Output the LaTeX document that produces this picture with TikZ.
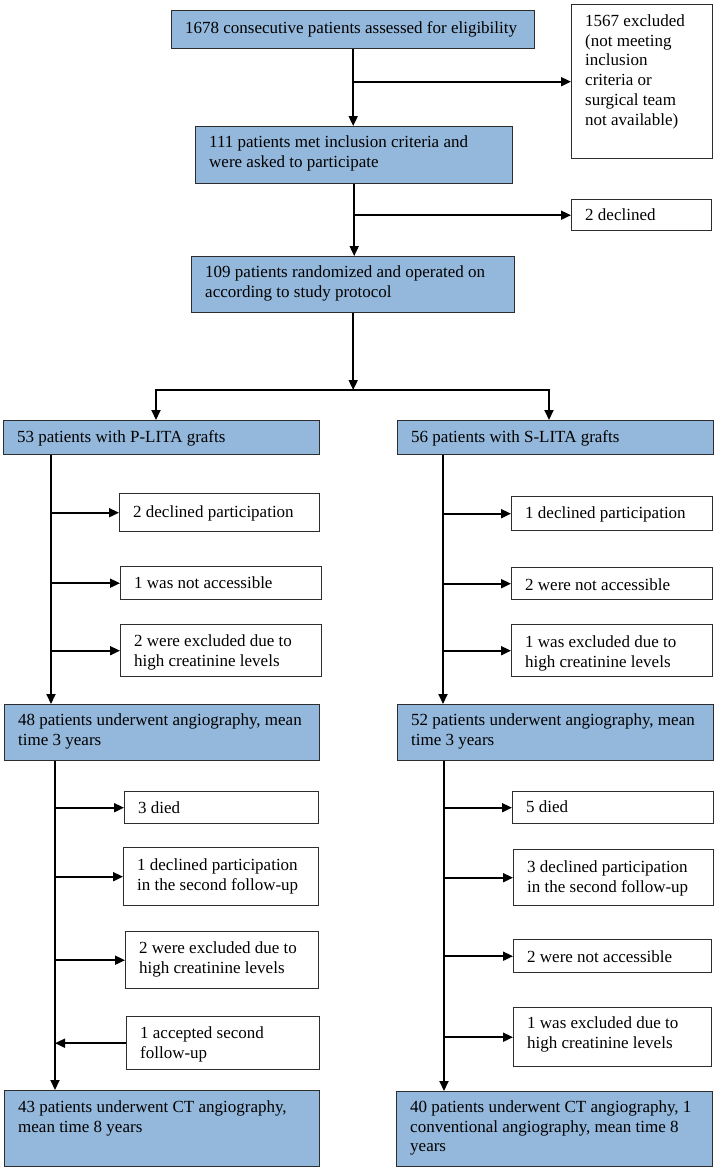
\documentclass[tikz,border=0pt]{standalone}
\usepackage{fontspec}
\setmainfont{Liberation Serif}
\usetikzlibrary{arrows.meta}
\definecolor{boxblue}{RGB}{148,184,219}
\definecolor{edgegray}{RGB}{45,45,45}
\tikzset{
  boxbase/.style={draw=edgegray, line width=1.4pt, inner sep=0pt, anchor=north west},
  bluebox/.style={boxbase, fill=boxblue},
  whitebox/.style={boxbase, fill=white},
  txt/.style={inner sep=0pt, anchor=north west, align=left, font=\fontsize{17}{19.8}\selectfont},
  conn/.style={line width=1.8pt, draw=black},
  arr/.style={conn, -{Triangle[length=10pt,width=9pt]}},
}
\newcommand\flowbox[8]{%
  \node[#2, minimum width={(#5-#3)*1pt}, minimum height={(#6-#4)*1pt}] (#1) at (#3,#4) {};
  \node[txt] (#1t) at ({#3+14},{#4+#7-13.86}) {\strut #8};
}
\begin{document}
\begin{tikzpicture}[x=1pt,y=-1pt]
\useasboundingbox (0,0) rectangle (717,1170);
\fill[white] (0,0) rectangle (717,1170);

% top part
\flowbox{A}{bluebox}{171}{10}{534}{48}{23}{1678 consecutive patients assessed for eligibility}
\flowbox{excl}{whitebox}{571}{4}{712}{158}{22}{1567 excluded\\(not meeting\\inclusion\\criteria or\\surgical team\\not available)}
\flowbox{B}{bluebox}{195}{126}{512}{183}{21}{111 patients met inclusion criteria and\\were asked to participate}
\flowbox{decl}{whitebox}{571}{199}{711}{230}{21}{2 declined}
\flowbox{C}{bluebox}{191}{256}{514}{312}{21}{109 patients randomized and operated on\\according to study protocol}

% arms
\flowbox{D}{bluebox}{3}{420}{319}{454}{22}{53 patients with P-LITA grafts}
\flowbox{E}{bluebox}{397}{420}{713}{454}{22}{56 patients with S-LITA grafts}

\flowbox{l1}{whitebox}{119}{493}{319}{531}{24}{2 declined participation}
\flowbox{l2}{whitebox}{120}{566}{321}{599}{22}{1 was not accessible}
\flowbox{l3}{whitebox}{120}{624}{321}{676}{22}{2 were excluded due to\\high creatinine levels}
\flowbox{r1}{whitebox}{511}{496}{712}{530}{22}{1 declined participation}
\flowbox{r2}{whitebox}{511}{567}{712}{599}{23}{2 were not accessible}
\flowbox{r3}{whitebox}{511}{624}{712}{676}{23}{1 was excluded due to\\high creatinine levels}

\flowbox{F}{bluebox}{4}{704}{319}{760}{21}{48 patients underwent angiography, mean\\time 3 years}
\flowbox{G}{bluebox}{397}{704}{713}{760}{21}{52 patients underwent angiography, mean\\time 3 years}

\flowbox{ld1}{whitebox}{124}{791}{318}{823}{22}{3 died}
\flowbox{ld2}{whitebox}{123}{847}{318}{905}{23}{1 declined participation\\in the second follow-up}
\flowbox{ld3}{whitebox}{125}{931}{318}{988}{22}{2 were excluded due to\\high creatinine levels}
\flowbox{ld4}{whitebox}{126}{1016}{319}{1069}{22}{1 accepted second\\follow-up}
\flowbox{rd1}{whitebox}{512}{791}{713}{823}{21}{5 died}
\flowbox{rd2}{whitebox}{513}{849}{713}{905}{23}{3 declined participation\\in the second follow-up}
\flowbox{rd3}{whitebox}{513}{939}{711}{972}{23}{2 were not accessible}
\flowbox{rd4}{whitebox}{513}{1007}{711}{1066}{21}{1 was excluded due to\\high creatinine levels}

\flowbox{H}{bluebox}{4}{1090}{319}{1166}{22}{43 patients underwent CT angiography,\\mean time 8 years}
\flowbox{I}{bluebox}{396}{1091}{712}{1166}{21}{40 patients underwent CT angiography, 1\\conventional angiography, mean time 8\\years}

% connectors, top
\draw[arr] (A.south) -- (A.south |- B.north);
\draw[arr] (A.south |- excl.west) -- (excl.west);
\draw[arr] (B.south) -- (B.south |- C.north);
\draw[arr] (B.south |- decl.west) -- (decl.west);
\coordinate (splitL) at (156,390);
\coordinate (splitR) at (549,390);
\coordinate (split) at (C.south |- splitL);
\draw[arr] (C.south) -- (split);
\draw[arr] (split) -| (splitL |- D.north);
\draw[arr] (split) -| (splitR |- E.north);

% arms, first stage
\coordinate (lx) at (51,0);
\coordinate (rx) at (443,0);
\draw[arr] (lx |- D.south) -- (lx |- F.north);
\draw[arr] (lx |- l1.west) -- (l1.west);
\draw[arr] (lx |- l2.west) -- (l2.west);
\draw[arr] (lx |- l3.west) -- (l3.west);
\draw[arr] (rx |- E.south) -- (rx |- G.north);
\draw[arr] (rx |- r1.west) -- (r1.west);
\draw[arr] (rx |- r2.west) -- (r2.west);
\draw[arr] (rx |- r3.west) -- (r3.west);

% arms, second stage
\coordinate (lx2) at (55,0);
\coordinate (rx2) at (444,0);
\draw[arr] (lx2 |- F.south) -- (lx2 |- H.north);
\draw[arr] (lx2 |- ld1.west) -- (ld1.west);
\draw[arr] (lx2 |- ld2.west) -- (ld2.west);
\draw[arr] (lx2 |- ld3.west) -- (ld3.west);
\draw[arr] (ld4.west) -- (lx2 |- ld4.west);
\draw[arr] (rx2 |- G.south) -- (rx2 |- I.north);
\draw[arr] (rx2 |- rd1.west) -- (rd1.west);
\draw[arr] (rx2 |- rd2.west) -- (rd2.west);
\draw[arr] (rx2 |- rd3.west) -- (rd3.west);
\draw[arr] (rx2 |- rd4.west) -- (rd4.west);
\end{tikzpicture}
\end{document}
